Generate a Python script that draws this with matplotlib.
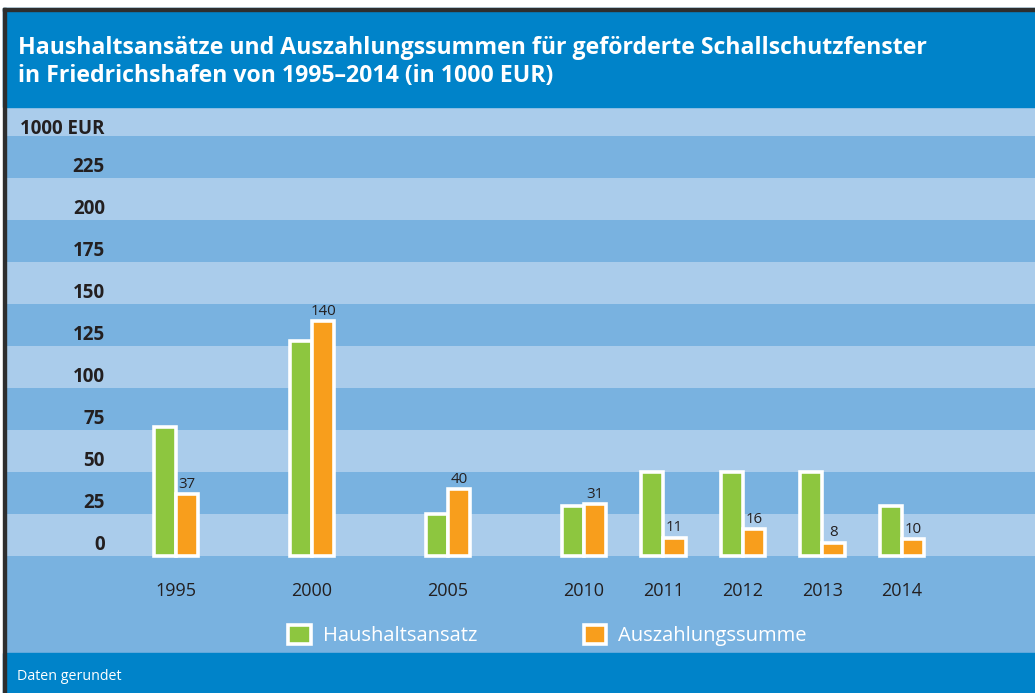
import matplotlib
matplotlib.use("Agg")
import matplotlib.pyplot as plt
from matplotlib.patches import Rectangle, Patch

plt.rcParams['font.family'] = ['Open Sans', 'DejaVu Sans']

# ---------------- data ----------------
years = ["1995", "2000", "2005", "2010", "2011", "2012", "2013", "2014"]
haushaltsansatz = [77, 128, 25, 30, 50, 50, 50, 30]
auszahlungssumme = [37, 140, 40, 31, 11, 16, 8, 10]
ytick_values = [0, 25, 50, 75, 100, 125, 150, 175, 200, 225]
unit_label = "1000 EUR"
title_line1 = "Haushaltsansätze und Auszahlungssummen für geförderte Schallschutzfenster"
title_line2 = "in Friedrichshafen von 1995–2014 (in 1000 EUR)"
legend_labels = ["Haushaltsansatz", "Auszahlungssumme"]
footer = "Daten gerundet"

# ---------------- style ----------------
BLUE = "#0083C9"
LIGHT = "#AACCEB"
DARK = "#79B2E0"
GREEN = "#8DC63F"
ORANGE = "#F89E1C"
TEXT = "#231F20"
BORDER = "#2E2E2E"

W, H = 1035, 693
fig = plt.figure(figsize=(W / 100, H / 100), dpi=100)
fig.patch.set_facecolor("white")


def fx(x):
    return x / W


def fy(y):
    return 1 - y / H


# title band, footer band, border
fig.patches.append(Rectangle((fx(3), fy(107)), fx(1035 - 3), (107 - 8) / H,
                             transform=fig.transFigure, color=BLUE, zorder=0))
fig.patches.append(Rectangle((fx(3), 0), fx(1035 - 3), (693 - 653) / H,
                             transform=fig.transFigure, color=BLUE, zorder=0))
fig.patches.append(Rectangle((fx(3), fy(11)), fx(1035 - 3), 3 / H,
                             transform=fig.transFigure, color=BORDER, zorder=5))
fig.patches.append(Rectangle((fx(3), 0), fx(3), (693 - 8) / H,
                             transform=fig.transFigure, color=BORDER, zorder=5))

fig.text(fx(18), fy(54), title_line1, color="white", fontsize=16.7,
         fontweight="bold", va="baseline", ha="left")
fig.text(fx(18), fy(82), title_line2, color="white", fontsize=16.7,
         fontweight="bold", va="baseline", ha="left")
fig.text(fx(17), fy(680), footer, color="white", fontsize=10.3,
         va="baseline", ha="left")

# ---------------- axes ----------------
ax = fig.add_axes([fx(6), (693 - 653) / H, 1029 / W, 546 / H])
ax.set_facecolor(DARK)
ax.set_ylim(-57.7, 267.3)

# positions: 1-year step = 1, larger gap for 5-year steps
positions = [0.0]
for a, b in zip(years[:-1], years[1:]):
    positions.append(positions[-1] + (1.71 if int(b) - int(a) > 1 else 1.0))
ax.set_xlim(-2.138, 10.805)

for v in range(0, 275, 50):
    ax.axhspan(v, v + 25, color=LIGHT, lw=0, zorder=0)

bw = 0.28
ax.bar([p - bw / 2 for p in positions], haushaltsansatz, width=bw,
       color=GREEN, edgecolor="white", linewidth=2.6, zorder=3)
ax.bar([p + bw / 2 for p in positions], auszahlungssumme, width=bw,
       color=ORANGE, edgecolor="white", linewidth=2.6, zorder=3)
for p, o in zip(positions, auszahlungssumme):
    ax.annotate(str(o), (p + bw / 2, o), xytext=(0, 4.5), textcoords="offset points",
                ha="center", va="baseline", fontsize=10.8, color=TEXT, zorder=4)

# y labels
xlab = (105 - 6) / 1029
for v in ytick_values:
    ax.text(xlab, v + 6.5, str(v), transform=ax.get_yaxis_transform(),
            ha="right", va="center", fontsize=13.5, fontweight="bold", color=TEXT)
ax.text(xlab, 254.2, unit_label, transform=ax.get_yaxis_transform(),
        ha="right", va="center", fontsize=13.5, fontweight="bold", color=TEXT)

# year labels
for p, yr in zip(positions, years):
    ax.text(p, -21, yr, ha="center", va="center", fontsize=13, color=TEXT)

handles = [Patch(facecolor=GREEN, edgecolor="white", linewidth=2.6),
           Patch(facecolor=ORANGE, edgecolor="white", linewidth=2.6)]
leg = ax.legend(handles, legend_labels, ncol=2, frameon=False,
                loc="center left", bbox_to_anchor=((288 - 6) / 1029, (653 - 635.5) / 546),
                fontsize=14.5, handlelength=1.12, handleheight=1.12,
                handletextpad=0.6, columnspacing=5.3, borderpad=0, borderaxespad=0)
for t in leg.get_texts():
    t.set_color("white")

ax.set_xticks([])
ax.set_yticks([])
for s in ax.spines.values():
    s.set_visible(False)

fig.savefig("out.png", dpi=100, facecolor=fig.get_facecolor())
